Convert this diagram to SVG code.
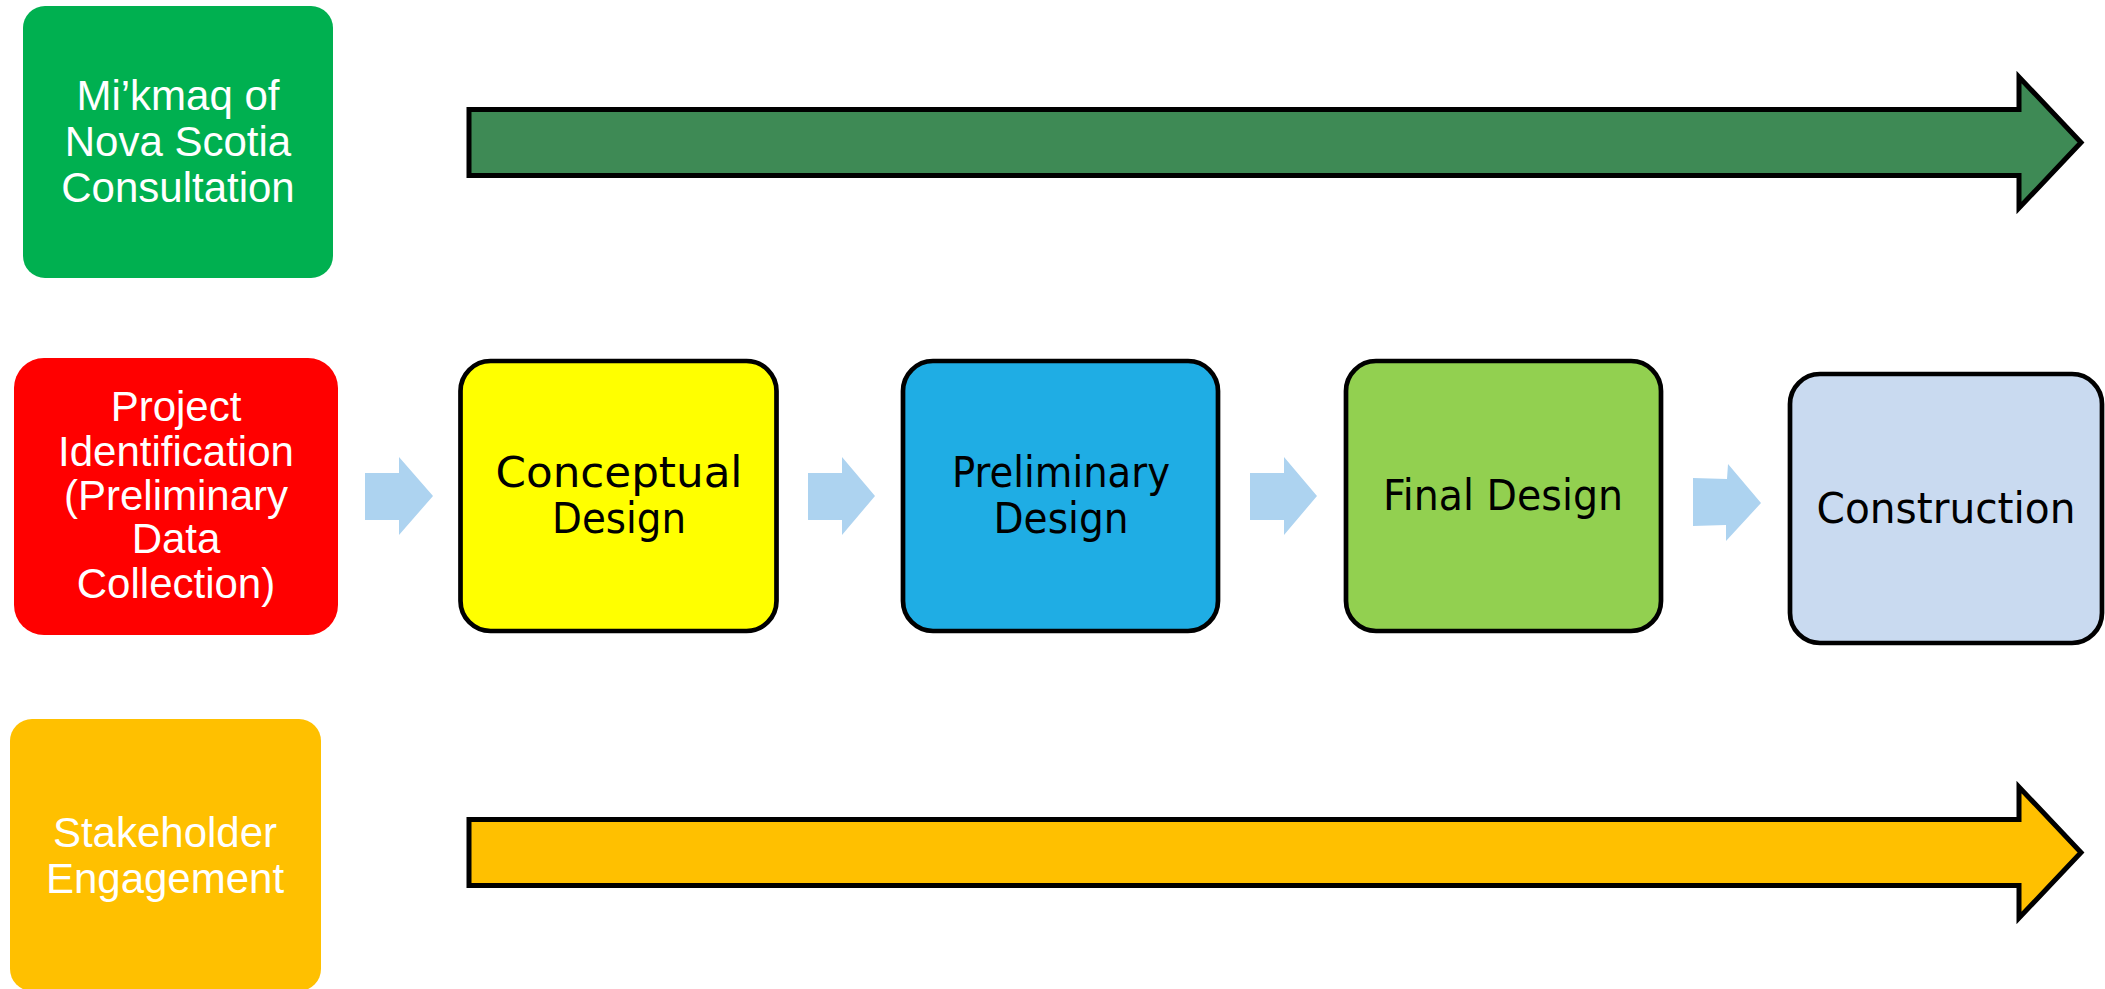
<svg xmlns="http://www.w3.org/2000/svg" width="2105" height="989" viewBox="0 0 2105 989">
<style>
.lt{font-family:"Liberation Sans",Arial,sans-serif;font-size:42px;fill:#FFFFFF;text-anchor:middle}
.ct{font-family:"DejaVu Sans","Liberation Sans",sans-serif;font-size:42px;fill:#000000;text-anchor:middle}
.box{stroke:#000000;stroke-width:4.7}
.big{stroke:#000000;stroke-width:5;stroke-linejoin:miter}
.flow{fill:#ADD3F0}
</style>
<rect width="2105" height="989" fill="#FFFFFF"/>
<g id="mikmaq">
<rect x="23" y="6" width="310" height="272" rx="22" fill="#00B050"/>
<text class="lt" x="178" y="110">Mi’kmaq of</text>
<text class="lt" x="178" y="156">Nova Scotia</text>
<text class="lt" x="178" y="202">Consultation</text>
</g>
<g id="project">
<rect x="14" y="358" width="324" height="277" rx="30" fill="#FF0000"/>
<text class="lt" x="176" y="421">Project</text>
<text class="lt" x="176" y="466">Identification</text>
<text class="lt" x="176" y="510">(Preliminary</text>
<text class="lt" x="176" y="553">Data</text>
<text class="lt" x="176" y="598">Collection)</text>
</g>
<g id="stakeholder">
<rect x="10" y="719" width="311" height="272" rx="22" fill="#FFC000"/>
<text class="lt" x="165" y="847">Stakeholder</text>
<text class="lt" x="165" y="893">Engagement</text>
</g>
<g id="conceptual">
<rect class="box" x="460.5" y="361" width="316" height="270" rx="30" fill="#FFFF00"/>
<text class="ct" x="619" y="487" textLength="247" lengthAdjust="spacingAndGlyphs">Conceptual</text>
<text class="ct" x="619" y="533" textLength="134" lengthAdjust="spacingAndGlyphs">Design</text>
</g>
<g id="preliminary">
<rect class="box" x="903" y="361" width="315" height="270" rx="30" fill="#1FADE4"/>
<text class="ct" x="1061" y="487" textLength="218" lengthAdjust="spacingAndGlyphs">Preliminary</text>
<text class="ct" x="1061" y="533" textLength="135" lengthAdjust="spacingAndGlyphs">Design</text>
</g>
<g id="final">
<rect class="box" x="1346" y="361" width="315" height="270" rx="30" fill="#92D050"/>
<text class="ct" x="1503" y="510" textLength="240" lengthAdjust="spacingAndGlyphs">Final Design</text>
</g>
<g id="construction">
<rect class="box" x="1790" y="374" width="312" height="269" rx="30" fill="#C9DAF0"/>
<text class="ct" x="1946" y="523" textLength="259" lengthAdjust="spacingAndGlyphs">Construction</text>
</g>
<g id="connectors">
<path class="big" fill="#3E8A55" d="M469,109.5 H2019 V77 L2081,142.5 L2019,208 V175.5 H469 Z"/>
<path class="big" fill="#FFC000" d="M469,819.5 H2019 V787 L2081,852.5 L2019,918 V885.5 H469 Z"/>
<polygon class="flow" points="365,473 399,473 399,457 433,496 399,535 399,520 365,520"/>
<polygon class="flow" points="808,473 842,473 842,457 875,496 842,535 842,520 808,520"/>
<polygon class="flow" points="1250,473 1284,473 1284,457 1317,496 1284,535 1284,520 1250,520"/>
<polygon class="flow" points="1693,478 1727,479 1728,464 1761,503 1726,541 1726,525 1693,526"/>
</g>
</svg>
